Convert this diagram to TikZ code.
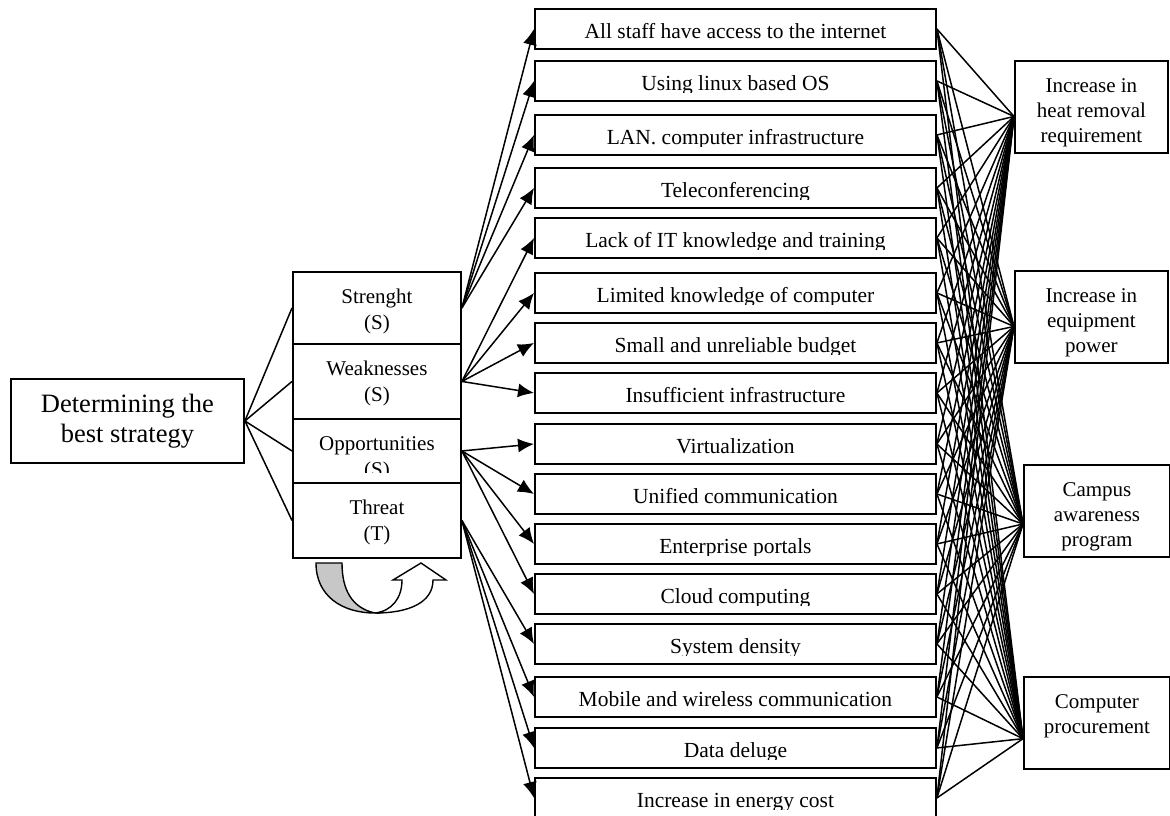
\documentclass[tikz,border=0pt]{standalone}
\usepackage{fontspec}
\setmainfont{Liberation Serif}
\usetikzlibrary{positioning,arrows.meta}
\newcommand{\factorfont}{\fontsize{21.5}{26}\selectfont}
\newcommand{\swotfont}{\fontsize{21}{26}\selectfont}
\newcommand{\impactfont}{\fontsize{21}{25}\selectfont}
\newcommand{\goalfont}{\fontsize{26.5}{30}\selectfont}
\tikzset{
	boxline/.style={draw, line width=1.9pt},
	bare/.style={draw=none, fill=none, shape=rectangle, minimum size=0pt, inner sep=0pt},
	goal/.style={boxline, anchor=north west, minimum width=233pt, minimum height=84pt, align=center, font=\goalfont},
	swot/.style={boxline, anchor=north west, minimum width=168pt,
		path picture={\clip (path picture bounding box.north west) rectangle ([yshift=10pt]path picture bounding box.south east);
			\node[bare, anchor=north, align=center, font=\swotfont] at ([yshift=-16.5pt]path picture bounding box.north) {#1};}},
	factor/.style={boxline, anchor=north west, minimum width=401pt, minimum height=40pt,
		path picture={\clip (path picture bounding box.north west) rectangle ([yshift=8.5pt]path picture bounding box.south east);
			\node[bare, anchor=base, font=\factorfont] at ([yshift=10pt]path picture bounding box.south) {#1};}},
	impact/.style={boxline, anchor=north west, minimum height=92pt,
		path picture={\node[bare, anchor=north, align=center, font=\impactfont] at ([yshift=-16.5pt]path picture bounding box.north) {#1};}},
	link/.style={every edge/.append style={line width=1.5pt}},
	fan/.style={every edge/.append style={-{Latex[length=16pt,width=14pt]}, line width=1.5pt}}
}

\begin{document}
\begin{tikzpicture}[x=1pt, y=-1pt]
		\newcommand{\swothorpos}{292}
		\newcommand{\factorhorpos}{534}
		\useasboundingbox (0,0) rectangle (1170,815);

		\node [goal] (strategy) at (10,378) {Determining the\\best strategy};

		\node [swot={Strenght\\(S)}, minimum height=72pt] (strength) at (\swothorpos,271) {};
		\node [swot={Weaknesses\\(S)}, minimum height=75pt] (weakness) at (\swothorpos,343) {};
		\node [swot={Opportunities\\(S)}, minimum height=64pt] (opportunity) at (\swothorpos,418) {};
		\node [swot={Threat\\(T)}, minimum height=75pt] (threat) at (\swothorpos,482) {};

		\node [factor={All staff have access to the internet}] (access) at (\factorhorpos,8) {};
		\node [factor={Using linux based OS}] (linux) at (\factorhorpos,60) {};
		\node [factor={LAN. computer infrastructure}] (lan) at (\factorhorpos,114) {};
		\node [factor={Teleconferencing}] (teleconf) at (\factorhorpos,167) {};
		\node [factor={Lack of IT knowledge and training}] (lackit) at (\factorhorpos,217) {};
		\node [factor={Limited knowledge of computer}] (limited) at (\factorhorpos,272) {};
		\node [factor={Small and unreliable budget}] (budget) at (\factorhorpos,322) {};
		\node [factor={Insufficient infrastructure}] (infra) at (\factorhorpos,372) {};
		\node [factor={Virtualization}] (virtual) at (\factorhorpos,423) {};
		\node [factor={Unified communication}] (unified) at (\factorhorpos,473) {};
		\node [factor={Enterprise portals}] (portals) at (\factorhorpos,523) {};
		\node [factor={Cloud computing}] (cloud) at (\factorhorpos,573) {};
		\node [factor={System density}] (density) at (\factorhorpos,623) {};
		\node [factor={Mobile and wireless communication}] (mobile) at (\factorhorpos,676) {};
		\node [factor={Data deluge}] (deluge) at (\factorhorpos,727) {};
		\node [factor={Increase in energy cost}] (energy) at (\factorhorpos,777) {};

		\node [impact={Increase in\\heat removal\\requirement}, minimum width=153pt] (heat) at (1014,60) {};
		\node [impact={Increase in\\equipment\\power}, minimum width=153pt] (power) at (1014,270) {};
		\node [impact={Campus\\awareness\\program}, minimum width=146pt] (campus) at (1023,464) {};
		\node [impact={Computer\\procurement}, minimum width=146pt] (procure) at (1023,676) {};

		\path [link] (strategy.east) edge (strength.west) edge (weakness.west) edge (opportunity.west) edge (threat.west);

		\path [fan] (strength.east) edge (access.west) edge (linux.west) edge (lan.west) edge (teleconf.west);
		\path [fan] (weakness.east) edge (lackit.west) edge (limited.west) edge (budget.west) edge (infra.west);
		\path [fan] (opportunity.east) edge (virtual.west) edge (unified.west) edge (portals.west) edge (cloud.west);
		\path [fan] (threat.east) edge (density.west) edge (mobile.west) edge (deluge.west) edge (energy.west);

		\path [link] (access.east) edge (heat.187) edge (power.187) edge (campus.190) edge (procure.192);
		\path [link] (linux.east) edge (heat.187) edge (power.187) edge (campus.190) edge (procure.192);
		\path [link] (lan.east) edge (heat.187) edge (power.187) edge (campus.190) edge (procure.192);
		\path [link] (teleconf.east) edge (heat.187) edge (power.187) edge (campus.190) edge (procure.192);
		\path [link] (lackit.east) edge (heat.187) edge (power.187) edge (campus.190) edge (procure.192);
		\path [link] (limited.east) edge (heat.187) edge (power.187) edge (campus.190) edge (procure.192);
		\path [link] (budget.east) edge (heat.187) edge (power.187) edge (campus.190) edge (procure.192);
		\path [link] (infra.east) edge (heat.187) edge (power.187) edge (campus.190) edge (procure.192);
		\path [link] (virtual.east) edge (heat.187) edge (power.187) edge (campus.190) edge (procure.192);
		\path [link] (unified.east) edge (heat.187) edge (power.187) edge (campus.190) edge (procure.192);
		\path [link] (portals.east) edge (heat.187) edge (power.187) edge (campus.190) edge (procure.192);
		\path [link] (cloud.east) edge (heat.187) edge (power.187) edge (campus.190) edge (procure.192);
		\path [link] (density.east) edge (heat.187) edge (power.187) edge (campus.190) edge (procure.192);
		\path [link] (mobile.east) edge (heat.187) edge (power.187) edge (campus.190) edge (procure.192);
		\path [link] (deluge.east) edge (heat.187) edge (power.187) edge (campus.190) edge (procure.192);
		\path [link] (energy.east) edge (heat.187) edge (power.187) edge (campus.190) edge (procure.192);

		% u-turn under the swot stack
		\draw [line width=1.4pt, fill=black!22] (316,563) -- (342,563) .. controls (342,590) and (352,608) .. (375,613) .. controls (342,613) and (316,596) .. cycle;
		\draw [line width=1.4pt, fill=white] (375,613) .. controls (410,613) and (433,602) .. (433,580) -- (446,580) -- (421,563) -- (393,580) -- (402,580) .. controls (402,598) and (392,611) .. (375,613) -- cycle;
	\end{tikzpicture}
\end{document}
